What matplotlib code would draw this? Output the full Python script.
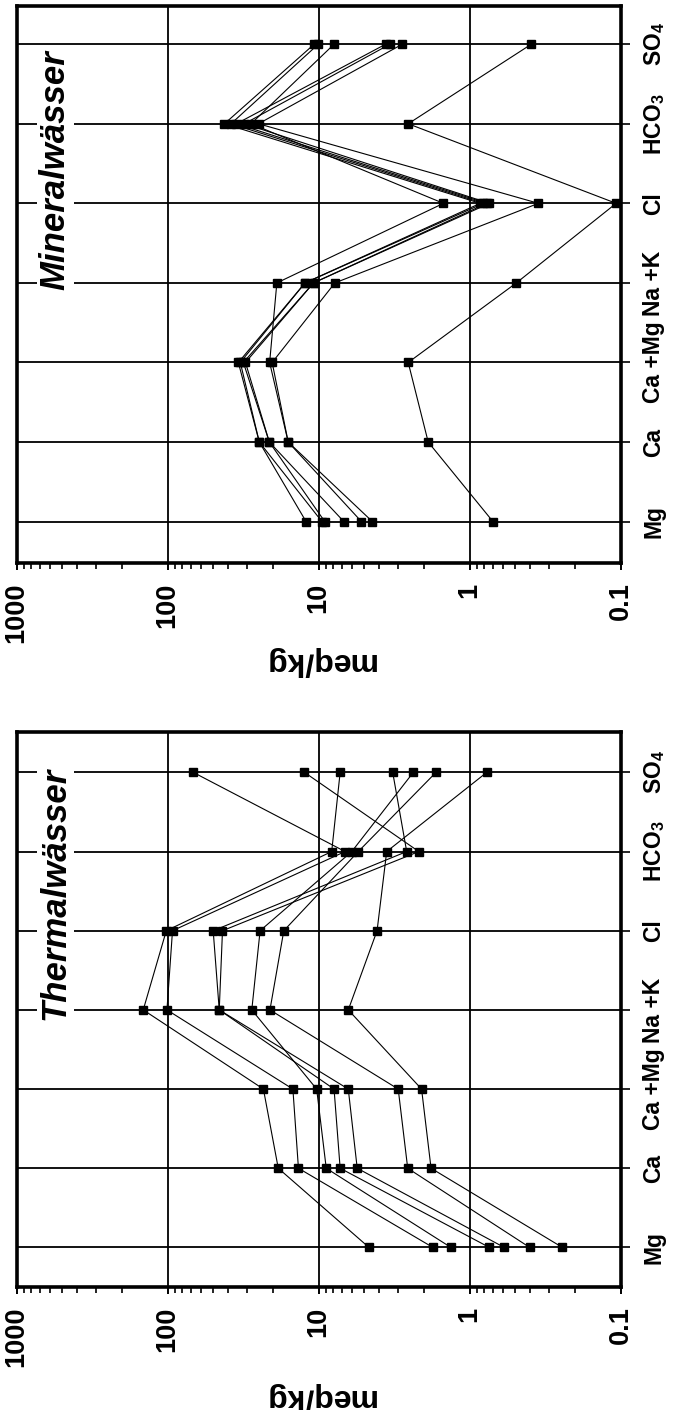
import numpy as np
import matplotlib
matplotlib.use('Agg')
import matplotlib.pyplot as plt
from matplotlib.ticker import FixedLocator, FixedFormatter, LogLocator, NullFormatter

plt.rcParams['font.family'] = ['Liberation Sans', 'DejaVu Sans']
plt.rcParams['mathtext.fontset'] = 'custom'
plt.rcParams['mathtext.rm'] = 'Liberation Sans:bold'
plt.rcParams['mathtext.bf'] = 'Liberation Sans:bold'
plt.rcParams['mathtext.default'] = 'rm'

# ions along the (rotated) category axis, Mg at the bottom
ions = ['Mg', 'Ca', 'Ca +Mg', 'Na +K', 'Cl', 'HCO$_3$', 'SO$_4$']
value_ticks = [1000, 100, 10, 1, 0.1]
value_labels = ['1000', '100', '10', '1', '0.1']

# meq/kg per sample, order as in ions
mineral_samples = [
    [12.1, 24.7, 34.0, 12.3, 0.85, 42.0, 10.7],
    [9.5, 24.7, 33.0, 12.3, 0.81, 38.0, 10.05],
    [9.1, 21.2, 31.5, 10.8, 0.77, 35.0, 3.6],
    [6.8, 21.2, 30.5, 10.8, 0.74, 31.0, 3.37],
    [5.2, 15.9, 21.1, 18.9, 1.49, 28.0, 7.9],
    [4.4, 15.9, 20.3, 7.8, 0.35, 25.0, 2.79],
    [0.70, 1.88, 2.55, 0.49, 0.107, 2.55, 0.39],
]

thermal_samples = [
    [4.64, 18.5, 23.2, 145, 102, 8.19, 7.2],
    [1.75, 13.6, 14.8, 101, 92.8, 6.68, 67.6],
    [1.33, 8.9, 10.3, 27.7, 24.4, 6.03, 2.36],
    [0.74, 7.2, 7.9, 45.5, 49.9, 2.61, 3.23],
    [0.59, 5.55, 6.36, 45.5, 43.3, 2.17, 12.4],
    [0.40, 2.57, 2.97, 21.0, 17.0, 5.46, 1.67],
    [0.243, 1.80, 2.08, 6.36, 4.1, 3.54, 0.77],
]


def draw_panel(ax, samples, title, ylim, title_top, label_y):
    pos = np.arange(len(ions))
    for s in samples:
        ax.plot(s, pos, color='black', lw=0.8, marker='s', ms=5.5,
                mfc='black', mec='black', zorder=4, clip_on=False)
    ax.set_xscale('log')
    ax.set_xlim(1000, 0.1)
    ax.set_ylim(*ylim)

    ax.xaxis.set_major_locator(FixedLocator(value_ticks))
    ax.xaxis.set_major_formatter(FixedFormatter(value_labels))
    ax.xaxis.set_minor_locator(LogLocator(base=10, subs=np.arange(2, 10)))
    ax.xaxis.set_minor_formatter(NullFormatter())
    ax.tick_params(axis='x', which='major', direction='out', length=5,
                   width=1.4, pad=9, labelsize=19.5)
    ax.tick_params(axis='x', which='minor', direction='out', length=4, width=1.2)
    for lab in ax.get_xticklabels():
        lab.set_rotation(90)
        lab.set_fontweight('bold')
        lab.set_va('top')
        lab.set_ha('center')

    ax.set_yticks(pos)
    ax.set_yticklabels(ions)
    ax.yaxis.tick_right()
    ax.tick_params(axis='y', which='both', left=False, right=True,
                   labelleft=False, labelright=True, direction='out',
                   length=6.5, width=1.2, pad=9, labelsize=16.5)
    for lab in ax.get_yticklabels():
        lab.set_rotation(90)
        lab.set_fontweight('bold')
        lab.set_va('center')
        lab.set_ha('left')

    ax.grid(True, which='major', color='black', lw=1.3, zorder=1)
    ax.set_axisbelow(True)
    for sp in ax.spines.values():
        sp.set_linewidth(2.6)

    ax.text(0.064, title_top, title, transform=ax.transAxes, rotation=90,
            ha='center', va='top', fontsize=25, fontweight='bold',
            fontstyle='italic', zorder=6,
            bbox=dict(facecolor='white', edgecolor='none', pad=1.5))
    ax.text(0.5, label_y, 'meq/kg', transform=ax.transAxes, rotation=180,
            ha='center', va='center', fontsize=23, fontweight='bold')


fig = plt.figure(figsize=(6.83, 14.1), dpi=100)
ax_min = fig.add_axes([16.6 / 683, (1410 - 563) / 1410, 604 / 683, 557 / 1410])
ax_th = fig.add_axes([16.6 / 683, (1410 - 1287) / 1410, 604 / 683, 555 / 1410])

draw_panel(ax_min, mineral_samples, 'Mineralwässer', (-0.52, 6.48), 0.921, -0.176)
draw_panel(ax_th, thermal_samples, 'Thermalwässer', (-0.50, 6.51), 0.937, -0.198)

fig.savefig('out.png', dpi=100, facecolor='white')
